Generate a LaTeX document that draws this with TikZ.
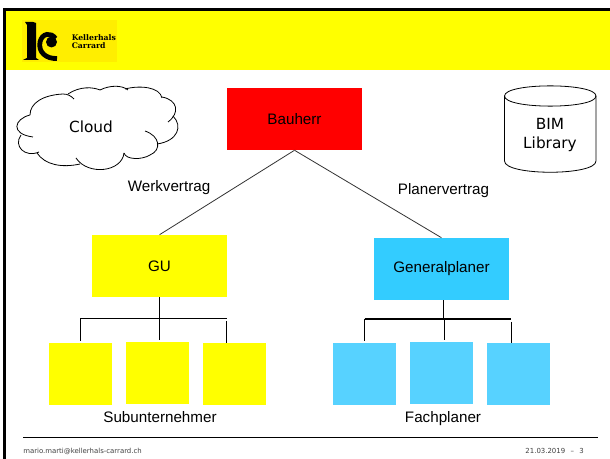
\documentclass[tikz,border=0pt]{standalone}
\usepackage{fontspec}
\setmainfont{Liberation Sans}
\newfontfamily\verdanafont{DejaVu Sans}
\newfontfamily\logofont{DejaVu Serif}
\definecolor{bandyellow}{HTML}{FFFF00}
\definecolor{logoyellow}{HTML}{FFEE00}
\definecolor{bauherrred}{HTML}{FF0000}
\definecolor{planerblue}{HTML}{33CCFF}
\definecolor{fachblue}{HTML}{57D2FF}
\begin{document}
\begin{tikzpicture}[x=0.75pt,y=-0.75pt,
	bigbox/.style={minimum width=101.25pt,minimum height=46.5pt,inner sep=0pt,font=\fontsize{11.4}{13}\selectfont},
	smallbox/.style={minimum width=47.25pt,minimum height=46.5pt,inner sep=0pt},
	label/.style={inner sep=0pt,font=\fontsize{11.4}{13}\selectfont},
	wire/.style={black,line width=0.8pt},
	contract/.style={black!80,line width=0.6pt},
	sketch/.style={black,line width=0.6pt}]

	\useasboundingbox (0,0) rectangle (610,459);
	\fill[white] (0,0) rectangle (610,459);

	% header band, frame
	\fill[bandyellow] (5,10) rectangle (610,70);
	\draw[black,line width=2.1pt] (4.5,459) -- (4.5,9.2) -- (610,9.2);
	\fill[logoyellow] (22,20) rectangle (117,62);

	% logo
	\fill[black] (25,22) -- (33,22) -- (36,23) -- (36,58) -- (39,60) -- (23,60) -- (27,58) -- (27,25) -- cycle;
	\draw[black,line width=3.6pt] (55.5,38.5) .. controls (51,32) and (42,33) .. (40,42) .. controls (38,52) and (46,59) .. (57,58.5);
	\fill[black] (51.5,42) circle (5.5);
	\node[inner sep=0pt,anchor=west,align=left,font=\logofont\bfseries\fontsize{5.8}{6.4}\selectfont] (firm) at (71.5,41.5) {Kellerhals\\Carrard};

	% boxes
	\node[bigbox,fill=bauherrred] (bauherr) at (294.5,119) {Bauherr};
	\node[bigbox,fill=bandyellow] (gu) at (159.5,266) {GU};
	\node[bigbox,fill=planerblue] (gp) at (441.5,269) {Generalplaner};
	\foreach \name/\x/\y in {sub1/80.5/374, sub2/157.5/373, sub3/234.5/374} {
		\node[smallbox,fill=bandyellow] (\name) at (\x,\y) {};
	}
	\foreach \name/\x/\y in {fach1/364.5/374, fach2/441.5/373, fach3/518.5/374} {
		\node[smallbox,fill=fachblue] (\name) at (\x,\y) {};
	}

	% contracts
	\draw[contract] (bauherr.south) -- (gu.north);
	\draw[contract] (bauherr.south) -- (gp.north);
	\node[label] (werk) at (169,188) {Werkvertrag};
	\node[label] (planer) at (443.5,191) {Planervertrag};

	% org lines
	\coordinate (guleft) at (80.5,318.5);
	\coordinate (gumid) at (159.5,318.5);
	\coordinate (guright) at (227,318.5);
	\coordinate (gutick) at (226.5,321);
	\coordinate (gpleft) at (364.5,319);
	\coordinate (gpmid) at (443.5,319);
	\coordinate (gpdrop) at (444.5,319);
	\coordinate (gpright) at (511,319);
	\coordinate (gptick) at (511.5,322);
	\draw[wire] (gu.south) -- (gumid);
	\draw[wire] (guleft) -- (guright);
	\draw[wire,shorten >=1.5pt] (guleft) -- (sub1.north);
	\draw[wire,shorten >=1.5pt] (gumid) -- (gumid |- sub2.north);
	\draw[wire] (gutick) -- (gutick |- sub3.north);
	\draw[wire] (gpmid |- gp.south) -- (gpmid);
	\draw[wire] (gpleft) -- (gpright);
	\draw[wire,shorten >=1.5pt] (gpleft) -- (fach1.north);
	\draw[wire,shorten >=1.5pt] (gpdrop) -- (gpdrop |- fach2.north);
	\draw[wire] (gptick) -- (gptick |- fach3.north);
	\node[label] (subs) at (160,417) {Subunternehmer};
	\node[label] (fachs) at (443,419) {Fachplaner};

	% cloud
	\draw[sketch] (30,115) .. controls (30,103) and (43,95) .. (63,94) .. controls (68,94) and (71,96) .. (74,99);
	\draw[sketch] (68,94) .. controls (80,86) and (93,87) .. (100,90);
	\draw[sketch] (100,90) .. controls (110,85) and (122,85) .. (128,90);
	\draw[sketch] (125,89) .. controls (140,85) and (160,87) .. (162,98);
	\draw[sketch] (162,97) .. controls (178,100) and (180,113) .. (168,122);
	\draw[sketch] (173,116) .. controls (183,126) and (178,141) .. (157,144);
	\draw[sketch] (145,131) .. controls (160,136) and (162,150) .. (150,155) .. controls (142,160) and (126,160) .. (124,153);
	\draw[sketch] (124,153) .. controls (122,172) and (88,176) .. (76,158);
	\draw[sketch] (80,164) .. controls (62,168) and (45,165) .. (37,153);
	\draw[sketch] (39,152) .. controls (25,158) and (13,146) .. (21,135);
	\draw[sketch] (30,115) .. controls (14,119) and (10,134) .. (33,137);
	\node[inner sep=0pt,font=\verdanafont\fontsize{11.5}{13}\selectfont] (cloud) at (91,127) {Cloud};

	% cylinder
	\draw[sketch] (504.5,96) .. controls (504.5,82.5) and (596,82.5) .. (596,96) .. controls (596,109.5) and (504.5,109.5) .. (504.5,96);
	\draw[sketch] (504.5,96) -- (504.5,161) .. controls (504.5,176) and (596,176) .. (596,161) -- (596,96);
	\node[inner sep=0pt,align=center,font=\verdanafont\fontsize{11.5}{14.25}\selectfont] (bim) at (550,135.5) {BIM\\Library};

	% footer
	\coordinate (footleft) at (23,437);
	\coordinate (footright) at (598,437);
	\draw[black,line width=0.7pt] (footleft) -- (footright);
	\node[inner sep=0pt,anchor=west,text=black!75,font=\verdanafont\fontsize{5.2}{6}\selectfont] (mail) at (23,451) {mario.marti@kellerhals-carrard.ch};
	\node[inner sep=0pt,anchor=east,text=black!75,font=\verdanafont\fontsize{5.2}{6}\selectfont] (date) at (584,451) {21.03.2019\hspace{4pt}–\hspace{4pt}3};
\end{tikzpicture}
\end{document}
